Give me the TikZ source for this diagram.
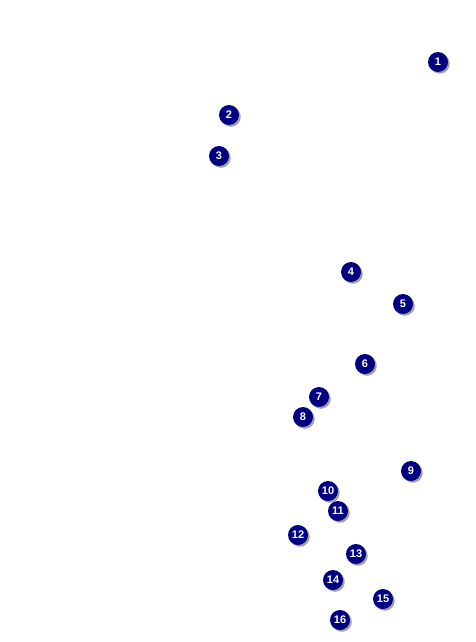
\documentclass[tikz,border=0pt]{standalone}
\usepackage{fontspec}
\setmainfont{Liberation Sans}
\usetikzlibrary{shadows}
\begin{document}
\begin{tikzpicture}[x=1pt,y=-1pt,
  badge/.style={circle,fill={rgb,255:red,0;green,0;blue,128},minimum size=20pt,inner sep=0pt,
    text=white,font=\bfseries\fontsize{11}{12}\selectfont,
    drop shadow={shadow xshift=1.8pt,shadow yshift=-1.8pt,fill=black!45,opacity=0.8}}]
\useasboundingbox (0,0) rectangle (475,642);
\node[badge] (n1) at (438,62) {1};
\node[badge] (n2) at (229,115) {2};
\node[badge] (n3) at (219,156) {3};
\node[badge] (n4) at (351,272) {4};
\node[badge] (n5) at (403,304) {5};
\node[badge] (n6) at (365,364) {6};
\node[badge] (n7) at (319,397) {7};
\node[badge] (n8) at (303,417) {8};
\node[badge] (n9) at (411,471) {9};
\node[badge] (n10) at (328,491) {10};
\node[badge] (n11) at (338,511) {11};
\node[badge] (n12) at (298,535) {12};
\node[badge] (n13) at (356,554) {13};
\node[badge] (n14) at (333,580) {14};
\node[badge] (n15) at (383,599) {15};
\node[badge] (n16) at (340,620) {16};
\end{tikzpicture}
\end{document}
